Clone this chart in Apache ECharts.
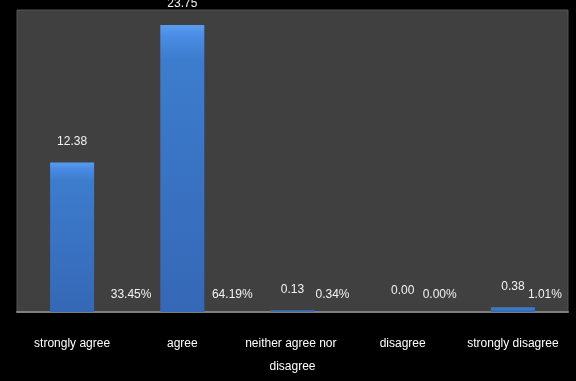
<!DOCTYPE html>
<html>
<head>
<meta charset="utf-8">
<script src="https://cdn.jsdelivr.net/npm/echarts@6/dist/echarts.min.js"></script>
<style>
html,body{margin:0;padding:0;background:#000;}
#c{width:576px;height:381px;}
</style>
</head>
<body>
<div id="c"></div>
<script>
var categories = ['strongly agree', 'agree', 'neither agree nor disagree', 'disagree', 'strongly disagree'];
var counts = [12.38, 23.75, 0.13, 0.00, 0.38];
var percents = [33.45, 64.19, 0.34, 0.00, 1.01];

// label layout (horizontal shift of percentage labels, px)
var pctShift = [59, 50, 40, 37, 32];

var FONT = '"Liberation Sans", Arial, sans-serif';

var chart = echarts.init(document.getElementById('c'), null, {renderer: 'canvas'});

var barColor = new echarts.graphic.LinearGradient(0, 0, 0, 1, [
  {offset: 0, color: '#5a9cf0'},
  {offset: 0.04, color: '#4a8ce4'},
  {offset: 0.12, color: '#3d7ccd'},
  {offset: 1, color: '#3568b6'}
]);

chart.setOption({
  backgroundColor: '#000000',
  animation: false,
  grid: {
    left: 17, right: 8, top: 10, bottom: 69,
    show: true, backgroundColor: '#404040', borderColor: '#555555', borderWidth: 1
  },
  xAxis: {
    type: 'category',
    data: categories,
    axisLine: {show: true, lineStyle: {color: '#808080', width: 2}},
    axisTick: {show: false},
    axisLabel: {
      interval: 0, margin: 20, color: '#ffffff', fontFamily: FONT, fontSize: 12,
      lineHeight: 23, width: 100, overflow: 'break'
    }
  },
  yAxis: [
    {type: 'value', min: 0, max: 25, show: false, splitLine: {show: false}},
    {type: 'value', min: 0, max: 100, show: false, splitLine: {show: false}}
  ],
  series: [
    {
      type: 'bar',
      data: counts,
      barWidth: 44,
      itemStyle: {color: barColor},
      label: {
        show: true, position: 'top', distance: 15, color: '#f2f2f2',
        fontFamily: FONT, fontSize: 12,
        formatter: function (p) { return p.value.toFixed(2); }
      }
    },
    {
      type: 'bar',
      yAxisIndex: 1,
      barWidth: 44,
      barGap: '-100%',
      data: percents.map(function (v, i) {
        return {
          value: v,
          label: {offset: [pctShift[i], -6]}
        };
      }),
      itemStyle: {color: 'rgba(0,0,0,0)'},
      label: {
        show: true, position: 'insideBottom', distance: 5, color: '#f2f2f2',
        fontFamily: FONT, fontSize: 12,
        formatter: function (p) { return p.value.toFixed(2) + '%'; }
      }
    }
  ]
});
</script>
</body>
</html>
